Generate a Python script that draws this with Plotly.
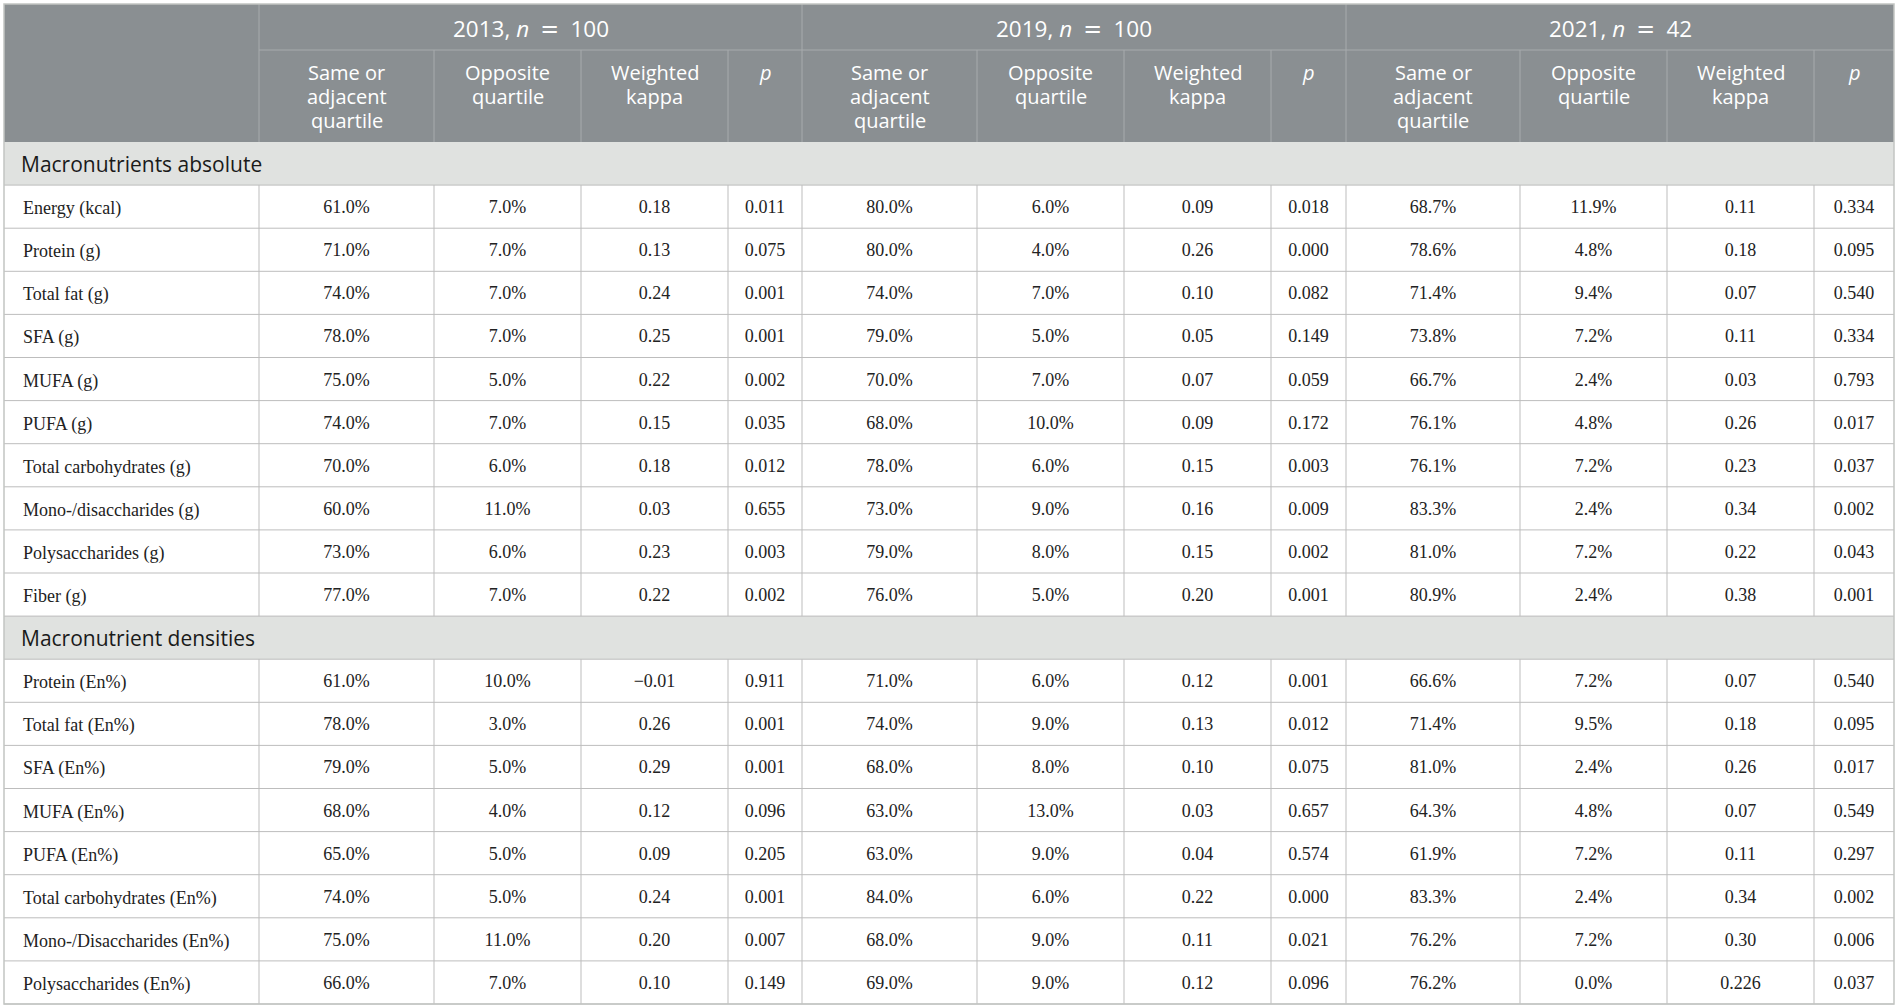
"""Quartile agreement table (2013 / 2019 / 2021)"""

import plotly.graph_objects as go

# ---- data ----
years = ["2013", "2019", "2021"]
n_by_year = [100, 100, 42]
sub_headers = [["Same or", "adjacent", "quartile"], ["Opposite", "quartile"], ["Weighted", "kappa"], ["<i>p</i>"]]
sections = ["Macronutrients absolute", "Macronutrient densities"]

labels_abs = [
    "Energy (kcal)", "Protein (g)", "Total fat (g)", "SFA (g)", "MUFA (g)", "PUFA (g)",
    "Total carbohydrates (g)", "Mono-/disaccharides (g)", "Polysaccharides (g)", "Fiber (g)",
]
labels_dens = [
    "Protein (En%)", "Total fat (En%)", "SFA (En%)", "MUFA (En%)", "PUFA (En%)",
    "Total carbohydrates (En%)", "Mono-/Disaccharides (En%)", "Polysaccharides (En%)",
]

# 10 absolute rows followed by 8 density rows
same_2013 = [61.0, 71.0, 74.0, 78.0, 75.0, 74.0, 70.0, 60.0, 73.0, 77.0,
             61.0, 78.0, 79.0, 68.0, 65.0, 74.0, 75.0, 66.0]
opp_2013 = [7.0, 7.0, 7.0, 7.0, 5.0, 7.0, 6.0, 11.0, 6.0, 7.0,
            10.0, 3.0, 5.0, 4.0, 5.0, 5.0, 11.0, 7.0]
kappa_2013 = ["0.18", "0.13", "0.24", "0.25", "0.22", "0.15", "0.18", "0.03", "0.23", "0.22",
              "\u22120.01", "0.26", "0.29", "0.12", "0.09", "0.24", "0.20", "0.10"]
p_2013 = [0.011, 0.075, 0.001, 0.001, 0.002, 0.035, 0.012, 0.655, 0.003, 0.002,
          0.911, 0.001, 0.001, 0.096, 0.205, 0.001, 0.007, 0.149]

same_2019 = [80.0, 80.0, 74.0, 79.0, 70.0, 68.0, 78.0, 73.0, 79.0, 76.0,
             71.0, 74.0, 68.0, 63.0, 63.0, 84.0, 68.0, 69.0]
opp_2019 = [6.0, 4.0, 7.0, 5.0, 7.0, 10.0, 6.0, 9.0, 8.0, 5.0,
            6.0, 9.0, 8.0, 13.0, 9.0, 6.0, 9.0, 9.0]
kappa_2019 = ["0.09", "0.26", "0.10", "0.05", "0.07", "0.09", "0.15", "0.16", "0.15", "0.20",
              "0.12", "0.13", "0.10", "0.03", "0.04", "0.22", "0.11", "0.12"]
p_2019 = [0.018, 0.000, 0.082, 0.149, 0.059, 0.172, 0.003, 0.009, 0.002, 0.001,
          0.001, 0.012, 0.075, 0.657, 0.574, 0.000, 0.021, 0.096]

same_2021 = [68.7, 78.6, 71.4, 73.8, 66.7, 76.1, 76.1, 83.3, 81.0, 80.9,
             66.6, 71.4, 81.0, 64.3, 61.9, 83.3, 76.2, 76.2]
opp_2021 = [11.9, 4.8, 9.4, 7.2, 2.4, 4.8, 7.2, 2.4, 7.2, 2.4,
            7.2, 9.5, 2.4, 4.8, 7.2, 2.4, 7.2, 0.0]
kappa_2021 = ["0.11", "0.18", "0.07", "0.11", "0.03", "0.26", "0.23", "0.34", "0.22", "0.38",
              "0.07", "0.18", "0.26", "0.07", "0.11", "0.34", "0.30", "0.226"]
p_2021 = [0.334, 0.095, 0.540, 0.334, 0.793, 0.017, 0.037, 0.002, 0.043, 0.001,
          0.540, 0.095, 0.017, 0.549, 0.297, 0.002, 0.006, 0.037]

# ---- layout constants (px) ----
W, H = 1900, 1008
col_w = [255, 175, 147, 147, 74, 175, 147, 147, 75, 174, 147, 147, 80]
x0, y0 = 4, 4
head1_h, head2_h, row_h = 46, 92, 43.1
line_gap = 24

HEAD_FILL = "#8a8f92"
HEAD_LINE = "#a7abad"
SECT_FILL = "#e0e2e0"
GRID = "#bdbdbd"
SANS = "Open Sans"
SERIF = "Liberation Serif"

edges = [x0]
for w in col_w:
    edges.append(edges[-1] + w)
x_end = edges[-1]
centers = [(a + b) / 2 for a, b in zip(edges[:-1], edges[1:])]


def pct(v):
    return f"{v:.1f}%"


def pval(v):
    return f"{v:.3f}"


columns = [
    [pct(v) for v in same_2013], [pct(v) for v in opp_2013], kappa_2013, [pval(v) for v in p_2013],
    [pct(v) for v in same_2019], [pct(v) for v in opp_2019], kappa_2019, [pval(v) for v in p_2019],
    [pct(v) for v in same_2021], [pct(v) for v in opp_2021], kappa_2021, [pval(v) for v in p_2021],
]

# body rows: section rows and data rows in order
body = [("section", sections[0])]
body += [("data", lab) for lab in labels_abs]
body += [("section", sections[1])]
body += [("data", lab) for lab in labels_dens]

fig = go.Figure()
shapes = []
annotations = []

# header background
head_bottom = y0 + head1_h + head2_h
shapes.append(dict(type="rect", x0=x0, x1=x_end, y0=y0, y1=head_bottom,
                   fillcolor=HEAD_FILL, line=dict(width=0), layer="below"))

# header lines
shapes.append(dict(type="line", x0=edges[1], x1=x_end, y0=y0 + head1_h, y1=y0 + head1_h,
                   line=dict(color=HEAD_LINE, width=1)))
for j in range(1, len(edges) - 1):
    top = y0 if (j - 1) % 4 == 0 else y0 + head1_h
    shapes.append(dict(type="line", x0=edges[j], x1=edges[j], y0=top, y1=head_bottom,
                       line=dict(color=HEAD_LINE, width=1)))

# header text
eq = "<span style='font-family:DejaVu Sans'>=</span>"
for g, (yr, n) in enumerate(zip(years, n_by_year)):
    cx = (edges[1 + 4 * g] + edges[5 + 4 * g]) / 2
    annotations.append(dict(x=cx, y=y0 + head1_h / 2 + 1,
                            text=f"{yr}, <i>n</i>\u2002{eq}\u2002{n}",
                            showarrow=False, xanchor="center", yanchor="middle",
                            font=dict(family=SANS, size=22.5, color="white")))
    for k, lines in enumerate(sub_headers):
        for m, txt in enumerate(lines):
            annotations.append(dict(x=centers[1 + 4 * g + k], y=y0 + head1_h + 22 + m * line_gap,
                                    text=txt, showarrow=False, xanchor="center", yanchor="middle",
                                    font=dict(family=SANS, size=20, color="white")))

# body rows
cell_x, cell_y, cell_t = [], [], []
top = head_bottom
data_i = 0
block_top = None
for kind, label in body:
    bottom = top + row_h
    cy = top + row_h / 2
    if kind == "section":
        if block_top is not None:
            for e in edges[1:-1]:
                shapes.append(dict(type="line", x0=e, x1=e, y0=block_top, y1=top,
                                   line=dict(color=GRID, width=1)))
        block_top = bottom
        shapes.append(dict(type="rect", x0=x0, x1=x_end, y0=top, y1=bottom,
                           fillcolor=SECT_FILL, line=dict(width=0), layer="below"))
        annotations.append(dict(x=x0 + 15, y=cy, text=label, showarrow=False,
                                xanchor="left", yanchor="middle",
                                font=dict(family=SANS, size=21, color="#1a1a1a")))
    else:
        annotations.append(dict(x=x0 + 17, y=cy + 2, text=label, showarrow=False,
                                xanchor="left", yanchor="middle",
                                font=dict(family=SERIF, size=18, color="#222222")))
        for j, col in enumerate(columns):
            cell_x.append(centers[j + 1])
            cell_y.append(cy + 2)
            cell_t.append(col[data_i])
        data_i += 1
    shapes.append(dict(type="line", x0=x0, x1=x_end, y0=bottom, y1=bottom,
                       line=dict(color=GRID, width=1)))
    top = bottom

for e in edges[1:-1]:
    shapes.append(dict(type="line", x0=e, x1=e, y0=block_top, y1=top,
                       line=dict(color=GRID, width=1)))

# outer border
shapes.append(dict(type="rect", x0=x0, x1=x_end, y0=y0, y1=top,
                   fillcolor="rgba(0,0,0,0)", line=dict(color="#c2c5c2", width=1.5)))

fig.add_trace(go.Scatter(
    x=cell_x, y=cell_y, text=cell_t, mode="text", textposition="middle center",
    textfont=dict(family=SERIF, size=18, color="#222222"), hoverinfo="skip", showlegend=False,
))

fig.update_layout(
    width=W, height=H, margin=dict(l=0, r=0, t=0, b=0),
    paper_bgcolor="white", plot_bgcolor="white",
    shapes=shapes, annotations=annotations, showlegend=False,
    xaxis=dict(range=[0, W], visible=False, fixedrange=True),
    yaxis=dict(range=[H, 0], visible=False, fixedrange=True),
)

fig.write_html("out.html", config={"displayModeBar": False},
               post_script="document.body.style.margin='0';")
